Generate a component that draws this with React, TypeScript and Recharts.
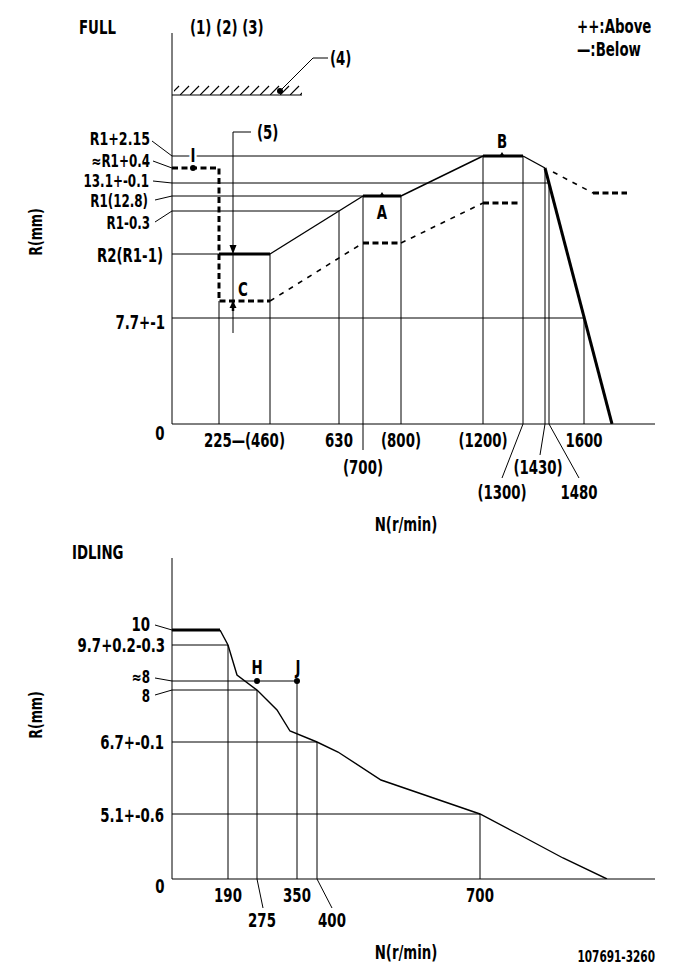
import React from 'react';
import { ComposedChart, Line, XAxis, YAxis, ReferenceLine, ReferenceDot, ReferenceArea } from 'recharts';

type Pt = { x: number; y: number };
type W = 'bold' | 'thin';

const FONT = '"DejaVu Sans Condensed", "Liberation Sans Narrow", "Arial Narrow", sans-serif';
const INK = '#000';
const SX = 0.78; // horizontal squeeze of the lettering (narrow gothic look)

// ---------------- FULL (schematic, not-to-scale positions) ----------------
const fullSpeedPos = [47, 98, 167, 191, 229, 311, 351, 373, 377, 412];
const fullSpeedLabels = ['225—', '(460)', '630', '(700)', '(800)', '(1200)', '(1300)', '(1430)', '1480', '1600'];
const fullLevelPos = [268, 256, 241, 228, 213, 170, 106, 0];
const fullLevelLabels = ['R1+2.15', '≈R1+0.4', '13.1+-0.1', 'R1(12.8)', 'R1-0.3', 'R2(R1-1)', '7.7+-1', '0'];

const fullUpper: Pt[] = [
  { x: 47, y: 170 }, { x: 98, y: 170 }, { x: 191, y: 228 }, { x: 229, y: 228 },
  { x: 311, y: 268 }, { x: 351, y: 268 }, { x: 373, y: 256 }, { x: 440, y: 0 },
];
const fullUpperW: W[] = ['bold', 'thin', 'bold', 'thin', 'bold', 'thin', 'bold'];

const fullLower: Pt[] = [
  { x: 0, y: 256 }, { x: 47, y: 256 }, { x: 47, y: 123 }, { x: 98, y: 123 },
  { x: 191, y: 181 }, { x: 229, y: 181 }, { x: 311, y: 221 }, { x: 348, y: 221 },
];
const fullLowerW: W[] = ['bold', 'bold', 'bold', 'thin', 'bold', 'thin', 'bold'];

const fullOverrun: Pt[] = [{ x: 381, y: 252 }, { x: 421, y: 231 }, { x: 455, y: 231 }];
const fullOverrunW: W[] = ['thin', 'bold'];

// guides: [level, speed]
const fullGuideH = [[268, 311], [241, 377], [228, 191], [213, 167], [170, 47], [106, 412]];
const fullGuideV = [[47, 123], [98, 170], [167, 213], [191, 228], [229, 228], [311, 268], [351, 268], [373, 256], [377, 241], [412, 106]];
const fullStopper = { x1: 0, x2: 130, y: 329 };

const fullPoints = [
  { name: 'I', x: 21, y: 256 },
  { name: 'A', x: 210, y: 228 },
  { name: 'B', x: 330, y: 268 },
  { name: 'C', x: 61, y: 123 },
];

// ---------------- IDLING ----------------
const idleSpeedPos = [56, 85, 125, 145, 308];
const idleSpeedLabels = ['190', '275', '350', '400', '700'];
const idleLevelPos = [249, 234, 198, 189, 137, 65, 0];
const idleLevelLabels = ['10', '9.7+0.2-0.3', '≈8', '8', '6.7+-0.1', '5.1+-0.6', '0'];

const idleCurve: Pt[] = [
  { x: 0, y: 249 }, { x: 48, y: 249 }, { x: 56, y: 234 }, { x: 65, y: 204 }, { x: 85, y: 189 },
  { x: 105, y: 169 }, { x: 118, y: 148 }, { x: 145, y: 137 }, { x: 166, y: 127 }, { x: 209, y: 99 },
  { x: 308, y: 65 }, { x: 348, y: 44 }, { x: 391, y: 21 }, { x: 435, y: 0 },
];
const idleCurveW: W[] = ['bold', 'thin', 'thin', 'thin', 'thin', 'thin', 'thin', 'thin', 'thin', 'thin', 'thin', 'thin', 'thin'];

const idleGuideH = [[234, 56], [198, 125], [189, 85], [137, 145], [65, 308]];
const idleGuideV = [[56, 234], [85, 189], [125, 198], [145, 137], [308, 65]];
const idlePoints = [
  { name: 'H', x: 85, y: 198 },
  { name: 'J', x: 125, y: 198 },
];

// ---------------- layout tables (offsets of labels from their tick) ----------------
type TL = { anchor?: 'start' | 'middle' | 'end'; dx?: number; dy?: number; lead?: number[]; size?: number };

const fullXLayout: TL[] = [
  { anchor: 'end', dx: 26, dy: 16 },
  { anchor: 'start', dx: -25, dy: 16 },
  { dy: 16 },
  { dy: 43, lead: [0, 0, 0, 26] },
  { dy: 16 },
  { dy: 16 },
  { dx: -21, dy: 68, lead: [0, 0, -21, 54] },
  { dx: -7, dy: 43, lead: [0, 0, -5, 31] },
  { dx: 30, dy: 68, lead: [0, 0, 30, 54] },
  { dy: 16 },
];
const fullYLayout: TL[] = [
  { dx: -22, dy: -17, lead: [-20, -15, 0, 0], size: 18 },
  { dx: -22, dy: -7, lead: [-19, -7, 0, 0], size: 17 },
  { dx: -23, dy: -2, lead: [-19, -2, 0, 0], size: 17 },
  { dx: -24, dy: 5, lead: [-17, 4, 0, 0], size: 17 },
  { dx: -22, dy: 12, lead: [-17, 11, 0, 0], size: 17 },
  { dx: -9, dy: 1 },
  { dx: -7, dy: 4 },
  { anchor: 'middle', dx: -12, dy: 9 },
];
const idleXLayout: TL[] = [
  { dy: 16 },
  { dx: 5, dy: 41, lead: [0, 0, 6, 29] },
  { dy: 16 },
  { dx: 15, dy: 41, lead: [0, 0, 15, 29] },
  { dy: 16 },
];
const idleYLayout: TL[] = [
  { dx: -22, dy: -6, lead: [-17, -5, 0, 0] },
  { dx: -7, dy: 0 },
  { dx: -22, dy: -4, lead: [-17, -3, 0, 0], size: 17 },
  { dx: -22, dy: 6, lead: [-17, 5, 0, 0], size: 17 },
  { dx: -8, dy: 0 },
  { dx: -8, dy: 1 },
  { anchor: 'middle', dx: -12, dy: 7 },
];

type Note = { t: string; x: number; y: number; a?: 'start' | 'middle' | 'end'; size?: number; halo?: boolean; rot?: boolean };
const fullNotes: Note[] = [
  { t: 'FULL', x: -93, y: 397 },
  { t: '(1) (2) (3)', x: 18, y: 397 },
  { t: '(4)', x: 158, y: 366 },
  { t: '(5)', x: 85, y: 292 },
  { t: '++:Above', x: 405, y: 398 },
  { t: '—:Below', x: 405, y: 375 },
  { t: 'A', x: 210, y: 212, a: 'middle' },
  { t: 'B', x: 330, y: 283, a: 'middle' },
  { t: 'C', x: 71, y: 135, a: 'middle' },
  { t: 'I', x: 21, y: 269, a: 'middle', halo: true },
  { t: 'N(r/min)', x: 234, y: -100, a: 'middle' },
  { t: 'R(mm)', x: -136, y: 192, a: 'middle', size: 18, rot: true },
];
const idleNotes: Note[] = [
  { t: 'IDLING', x: -100, y: 327 },
  { t: 'H', x: 85, y: 212, a: 'middle' },
  { t: 'J', x: 126, y: 212, a: 'middle' },
  { t: 'N(r/min)', x: 234, y: -73, a: 'middle' },
  { t: '107691-3260', x: 483, y: -78, a: 'end', size: 15 },
  { t: 'R(mm)', x: -136, y: 164, a: 'middle', size: 18, rot: true },
];

// ---------------- helpers ----------------
function runs(path: Pt[], weights: W[]) {
  const out: { w: W; pts: Pt[] }[] = [];
  let cur: Pt[] = [path[0]];
  let w = weights[0];
  for (let i = 1; i < path.length; i++) {
    const wi = weights[i - 1];
    if (wi !== w) {
      out.push({ w, pts: cur });
      cur = [path[i - 1]];
      w = wi;
    }
    cur.push(path[i]);
  }
  out.push({ w, pts: cur });
  return out;
}

const TextEl = ({ x, y, t, a = 'start', size = 19, halo = false, rot = false }: any) => (
  <g transform={`translate(${x} ${y})${rot ? ' rotate(-90)' : ''} scale(${SX} 1)`}>
    <text
      x={0}
      y={0}
      dy={size * 0.36}
      textAnchor={a}
      fontFamily={FONT}
      fontWeight={700}
      fontSize={size}
      fill={INK}
      stroke={halo ? '#fff' : 'none'}
      strokeWidth={halo ? 6 : 0}
      paintOrder="stroke"
    >
      {t}
    </text>
  </g>
);

const makeTick = (positions: number[], labels: string[], layout: TL[], axis: 'x' | 'y') => (props: any) => {
  const { x, y, payload } = props;
  const i = positions.indexOf(payload.value);
  if (i < 0) return <g />;
  const L = layout[i];
  const dx = L.dx ?? 0;
  const dy = L.dy ?? 0;
  const anchor = L.anchor ?? (axis === 'x' ? 'middle' : 'end');
  return (
    <g>
      {L.lead && (
        <line x1={x + L.lead[0]} y1={y + L.lead[1]} x2={x + L.lead[2]} y2={y + L.lead[3]} stroke={INK} strokeWidth={1} />
      )}
      <TextEl x={x + dx} y={y + dy} t={labels[i]} a={anchor} size={L.size} />
    </g>
  );
};

const ArrowDown = ({ cx, cy }: any) => <polygon points={`${cx},${cy} ${cx - 3.5},${cy - 9} ${cx + 3.5},${cy - 9}`} fill={INK} />;
const ArrowUp = ({ cx, cy }: any) => (
  <g>
    <polygon points={`${cx},${cy} ${cx - 3.5},${cy + 7} ${cx + 3.5},${cy + 7}`} fill={INK} />
    <line x1={cx} y1={cy} x2={cx} y2={cy + 10} stroke={INK} strokeWidth={2.5} />
  </g>
);
const Caret = ({ cx, cy }: any) => <polygon points={`${cx},${cy - 4} ${cx - 2.5},${cy} ${cx + 2.5},${cy}`} fill={INK} />;
const Dot = ({ cx, cy }: any) => <circle cx={cx} cy={cy} r={3} fill={INK} />;

function pathLines(prefix: string, path: Pt[], weights: W[], dashed: boolean) {
  return runs(path, weights).map((r, k) => (
    <Line
      key={`${prefix}-${k}`}
      data={r.pts}
      dataKey="y"
      type="linear"
      stroke={INK}
      strokeWidth={r.w === 'bold' ? 3 : dashed ? 1.6 : 1.4}
      strokeDasharray={dashed ? (r.w === 'bold' ? '6 3.5' : '5 6') : undefined}
      dot={false}
      activeDot={false}
      legendType="none"
      isAnimationActive={false}
    />
  ));
}

function guides(prefix: string, h: number[][], v: number[][]) {
  return [
    ...h.map(([lv, sp], k) => (
      <ReferenceLine key={`${prefix}h${k}`} segment={[{ x: 0, y: lv }, { x: sp, y: lv }]} stroke={INK} strokeWidth={1} ifOverflow="visible" />
    )),
    ...v.map(([sp, lv], k) => (
      <ReferenceLine key={`${prefix}v${k}`} segment={[{ x: sp, y: 0 }, { x: sp, y: lv }]} stroke={INK} strokeWidth={1} ifOverflow="visible" />
    )),
  ];
}

function notes(prefix: string, list: Note[]) {
  return list.map((n, k) => (
    <ReferenceDot
      key={`${prefix}n${k}`}
      x={n.x}
      y={n.y}
      r={3}
      ifOverflow="visible"
      shape={(p: any) => <TextEl x={p.cx} y={p.cy} t={n.t} a={n.a} size={n.size} halo={n.halo} rot={n.rot} />}
    />
  ));
}

const axisStyle = { stroke: INK, strokeWidth: 1 };

export default function App() {
  return (
    <div style={{ position: 'absolute', left: 0, top: 0, width: 681, height: 979, background: '#fff' }}>
      <div style={{ position: 'absolute', left: 0, top: 0 }}>
        <ComposedChart width={681} height={536} margin={{ top: 33, right: 26, bottom: 82, left: 112 }}>
          <defs>
            <pattern id="hatch" x={0} y={5} width={10} height={10} patternUnits="userSpaceOnUse">
              <line x1={0} y1={10} x2={9} y2={1} stroke={INK} strokeWidth={1.2} />
            </pattern>
          </defs>
          <XAxis
            type="number"
            dataKey="x"
            domain={[0, 483]}
            allowDataOverflow
            ticks={fullSpeedPos}
            interval={0}
            tickSize={0}
            tickMargin={0}
            tickLine={false}
            axisLine={axisStyle}
            height={30}
            tick={makeTick(fullSpeedPos, fullSpeedLabels, fullXLayout, 'x')}
          />
          <YAxis
            type="number"
            domain={[0, 391]}
            allowDataOverflow
            ticks={fullLevelPos}
            interval={0}
            tickSize={0}
            tickMargin={0}
            tickLine={false}
            axisLine={axisStyle}
            width={60}
            tick={makeTick(fullLevelPos, fullLevelLabels, fullYLayout, 'y')}
          />
          <ReferenceArea x1={2} x2={130} y1={329} y2={339} fill="url(#hatch)" fillOpacity={1} stroke="none" ifOverflow="visible" />
          <ReferenceLine segment={[{ x: fullStopper.x1, y: fullStopper.y }, { x: fullStopper.x2, y: fullStopper.y }]} stroke={INK} strokeWidth={1.2} />
          {guides('f', fullGuideH, fullGuideV)}
          {/* leaders for (4) and (5) */}
          <ReferenceLine segment={[{ x: 141, y: 366 }, { x: 156, y: 366 }]} stroke={INK} strokeWidth={1} />
          <ReferenceLine segment={[{ x: 141, y: 366 }, { x: 108, y: 333 }]} stroke={INK} strokeWidth={1} />
          <ReferenceLine segment={[{ x: 61, y: 292 }, { x: 79, y: 292 }]} stroke={INK} strokeWidth={1} />
          <ReferenceLine segment={[{ x: 61, y: 292 }, { x: 61, y: 91 }]} stroke={INK} strokeWidth={1} />
          {pathLines('fu', fullUpper, fullUpperW, false)}
          {pathLines('fl', fullLower, fullLowerW, true)}
          {pathLines('fo', fullOverrun, fullOverrunW, true)}
          <ReferenceDot x={108} y={333} r={3} ifOverflow="visible" shape={Dot} />
          <ReferenceDot x={61} y={170} r={3} ifOverflow="visible" shape={ArrowDown} />
          <ReferenceDot x={fullPoints[3].x} y={fullPoints[3].y} r={3} ifOverflow="visible" shape={ArrowUp} />
          <ReferenceDot x={fullPoints[0].x} y={fullPoints[0].y} r={3} ifOverflow="visible" shape={Dot} />
          <ReferenceDot x={fullPoints[1].x} y={fullPoints[1].y} r={3} ifOverflow="visible" shape={Caret} />
          <ReferenceDot x={fullPoints[2].x} y={fullPoints[2].y} r={3} ifOverflow="visible" shape={Caret} />
          {notes('f', fullNotes)}
        </ComposedChart>
      </div>
      <div style={{ position: 'absolute', left: 0, top: 536 }}>
        <ComposedChart width={681} height={443} margin={{ top: 22, right: 26, bottom: 70, left: 112 }}>
          <XAxis
            type="number"
            dataKey="x"
            domain={[0, 483]}
            allowDataOverflow
            ticks={idleSpeedPos}
            interval={0}
            tickSize={0}
            tickMargin={0}
            tickLine={false}
            axisLine={axisStyle}
            height={30}
            tick={makeTick(idleSpeedPos, idleSpeedLabels, idleXLayout, 'x')}
          />
          <YAxis
            type="number"
            domain={[0, 321]}
            allowDataOverflow
            ticks={idleLevelPos}
            interval={0}
            tickSize={0}
            tickMargin={0}
            tickLine={false}
            axisLine={axisStyle}
            width={60}
            tick={makeTick(idleLevelPos, idleLevelLabels, idleYLayout, 'y')}
          />
          {guides('i', idleGuideH, idleGuideV)}
          {pathLines('ic', idleCurve, idleCurveW, false)}
          {idlePoints.map((p) => (
            <ReferenceDot key={p.name} x={p.x} y={p.y} r={3} ifOverflow="visible" shape={Dot} />
          ))}
          {notes('i', idleNotes)}
        </ComposedChart>
      </div>
    </div>
  );
}
